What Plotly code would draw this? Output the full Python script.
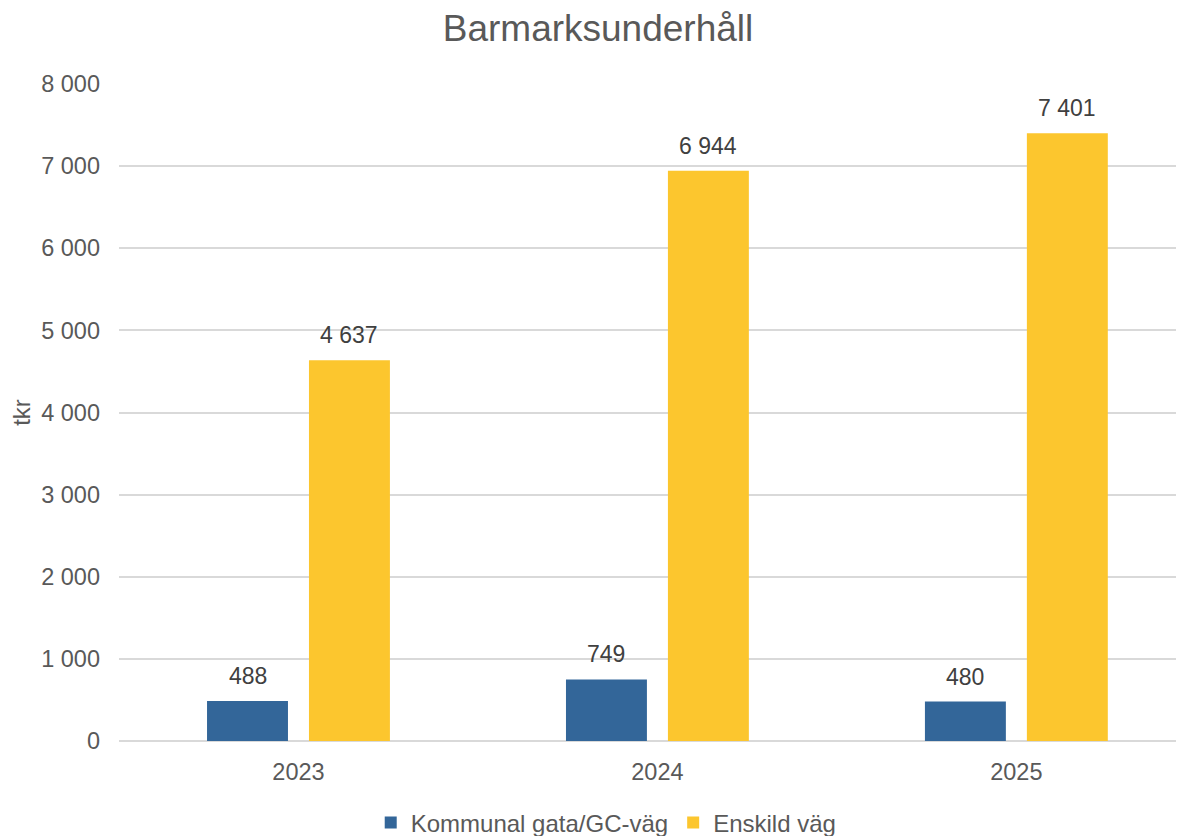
import plotly.graph_objects as go

years = ["2023", "2024", "2025"]
kommunal = [488, 749, 480]
enskild = [4637, 6944, 7401]
series_names = ["Kommunal gata/GC-väg", "Enskild väg"]
colors = ["#336699", "#FCC62E"]

FONT = "Liberation Sans, Arial, sans-serif"
BARGAP = 0.432
GROUPGAP = 0.206
W, H = 1176, 828

fig = go.Figure()
series = [kommunal, enskild]
for name, vals, col in zip(series_names, series, colors):
    fig.add_trace(go.Bar(x=years, y=vals, name=name, marker_color=col, marker_line_width=0))

# data labels placed above each bar, offset to the bar's group slot
slot = (1 - BARGAP) / len(series)
annotations = []
for s_i, vals in enumerate(series):
    off = (s_i - (len(series) - 1) / 2) * slot
    for c_i, v in enumerate(vals):
        annotations.append(dict(
            x=c_i + off, y=v, xref="x", yref="y", text=f"{v:,}".replace(",", " "),
            showarrow=False, yanchor="bottom", xanchor="center", yshift=10,
            font=dict(size=23, color="#404040", family=FONT)))

fig.update_layout(
    width=W, height=H,
    separators=", ",
    paper_bgcolor="white", plot_bgcolor="white",
    font=dict(family=FONT, color="#595959", size=23.5),
    title=dict(text="Barmarksunderhåll", x=590 / W, xanchor="center", y=1 - 20 / H, yanchor="middle",
               font=dict(size=37, color="#595959")),
    margin=dict(l=111, r=0, t=76, b=95),
    barmode="group", bargap=BARGAP, bargroupgap=GROUPGAP,
    legend=dict(orientation="h", x=538 / W, xanchor="center", yref="container", y=1 - 815 / H,
                yanchor="middle", font=dict(size=24, color="#595959"), itemwidth=30,
                traceorder="normal"),
    showlegend=True,
    annotations=annotations,
)
fig.update_yaxes(range=[0, 8000], dtick=1000, tickformat=",", showgrid=True,
                 gridcolor="#d9d9d9", gridwidth=1.5, zeroline=True, zerolinecolor="#d9d9d9",
                 zerolinewidth=1.5, ticks="", ticklabelstandoff=18,
                 title=dict(text="tkr", font=dict(size=24, color="#595959"), standoff=4),
                 tickfont=dict(size=23.5, color="#595959"))
fig.update_xaxes(type="category", range=[-0.5, 2.467], showline=False, ticks="",
                 tickfont=dict(size=23.5, color="#595959"), ticklabelstandoff=14)

fig.write_html("out.html")
